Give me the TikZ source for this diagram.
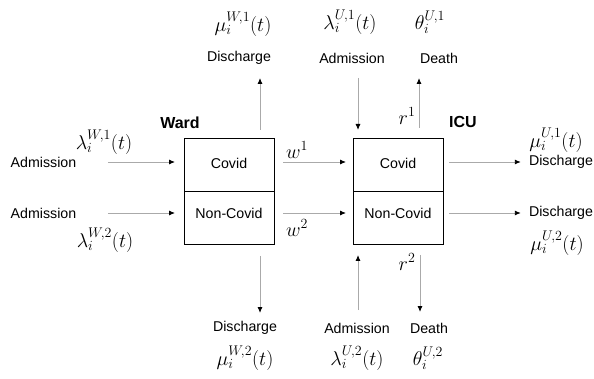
\RequirePackage{fix-cm}
\documentclass[tikz,border=0pt]{standalone}
\usepackage{fontspec}
\setmainfont{Liberation Sans}
\usetikzlibrary{arrows.meta}
\tikzset{
  txt/.style={inner sep=0pt, font=\fontsize{14.2}{16}\selectfont},
  bold/.style={inner sep=0pt, font=\fontsize{16}{18}\selectfont\bfseries},
  mth/.style={inner sep=0pt, font=\fontsize{20}{24}\selectfont},
  half/.style={draw=black, line width=1pt, minimum width=90pt, minimum height=53pt, inner sep=0pt},
  flow/.style={draw={rgb,255:red,170;green,170;blue,170}, line width=0.9pt, -{Latex[length=6pt,width=5pt,black]}},
}
\begin{document}
\begin{tikzpicture}[x=1pt,y=-1pt]
\useasboundingbox (0,0) rectangle (594,379);
% boxes
\node[half] (wc) at (229,165.5) {};
\node[half] (wn) at (229,218.5) {};
\node[half] (uc) at (398,165.5) {};
\node[half] (un) at (398,218.5) {};
\node[txt] (wct) at (229,163) {Covid};
\node[txt] (wnt) at (229,213) {Non-Covid};
\node[txt] (uct) at (398,163) {Covid};
\node[txt] (unt) at (398,213) {Non-Covid};
\node[bold] (ward) at (180,123) {Ward};
\node[bold] (icu) at (463,122) {ICU};
% left side
\node[txt] (adm1) at (43.5,162) {Admission};
\node[mth] (lw1) at (104,142) {$\lambda_i^{W,1}(t)$};
\node[txt] (adm2) at (43.5,213) {Admission};
\node[mth] (lw2) at (105,240) {$\lambda_i^{W,2}(t)$};
\coordinate (a1e) at (175,162);
\coordinate (a2e) at (175,213);
\draw[flow, shorten <=31.5pt] (adm1.east) -- (a1e);
\draw[flow, shorten <=31.5pt] (adm2.east) -- (a2e);
% ward top/bottom
\node[txt] (wd1) at (239,58) {Discharge};
\node[mth] (mw1) at (243,24) {$\mu_i^{W,1}(t)$};
\node[txt] (wd2) at (245,328) {Discharge};
\node[mth] (mw2) at (245,358) {$\mu_i^{W,2}(t)$};
\coordinate (wt0) at (260,130);
\coordinate (wt1) at (260,78);
\coordinate (wb0) at (260,256);
\coordinate (wb1) at (260,313);
\draw[flow] (wt0) -- (wt1);
\draw[flow] (wb0) -- (wb1);
% transfers
\coordinate (t1s) at (283,162);
\coordinate (t1e) at (346,162);
\coordinate (t2s) at (283,213);
\coordinate (t2e) at (346,213);
\draw[flow] (t1s) -- (t1e);
\draw[flow] (t2s) -- (t2e);
\node[mth] (w1) at (297,150) {$w^1$};
\node[mth] (w2) at (297,228) {$w^2$};
% ICU top
\node[txt] (uadm1) at (352,58) {Admission};
\node[mth] (lu1) at (350,22) {$\lambda_i^{U,1}(t)$};
\node[txt] (udth1) at (439,58) {Death};
\node[mth] (th1) at (430,22) {$\theta_i^{U,1}$};
\node[mth] (r1) at (407,116) {$r^1$};
\coordinate (ua0) at (358,78);
\coordinate (ua1) at (358,130);
\coordinate (ud0) at (419,128);
\coordinate (ud1) at (419,78);
\draw[flow] (ua0) -- (ua1);
\draw[flow] (ud0) -- (ud1);
% ICU right
\coordinate (r1s) at (449,162);
\coordinate (r2s) at (449,213);
\node[txt] (ud1t) at (561,162) {Discharge};
\node[mth] (mu1) at (556,140) {$\mu_i^{U,1}(t)$};
\node[txt] (ud2t) at (561,213) {Discharge};
\node[mth] (mu2) at (557,243) {$\mu_i^{U,2}(t)$};
\draw[flow, shorten >=8pt] (r1s) -- (ud1t.west);
\draw[flow, shorten >=8pt] (r2s) -- (ud2t.west);
% ICU bottom
\node[txt] (uadm2) at (357,328) {Admission};
\node[mth] (lu2) at (357,358) {$\lambda_i^{U,2}(t)$};
\node[txt] (udth2) at (429,328) {Death};
\node[mth] (th2) at (428,358) {$\theta_i^{U,2}$};
\node[mth] (r2) at (407,262) {$r^2$};
\coordinate (ub0) at (358,310);
\coordinate (ub1) at (358,255);
\coordinate (uc0) at (420,255);
\coordinate (uc1) at (420,312);
\draw[flow] (ub0) -- (ub1);
\draw[flow] (uc0) -- (uc1);
\end{tikzpicture}
\end{document}
